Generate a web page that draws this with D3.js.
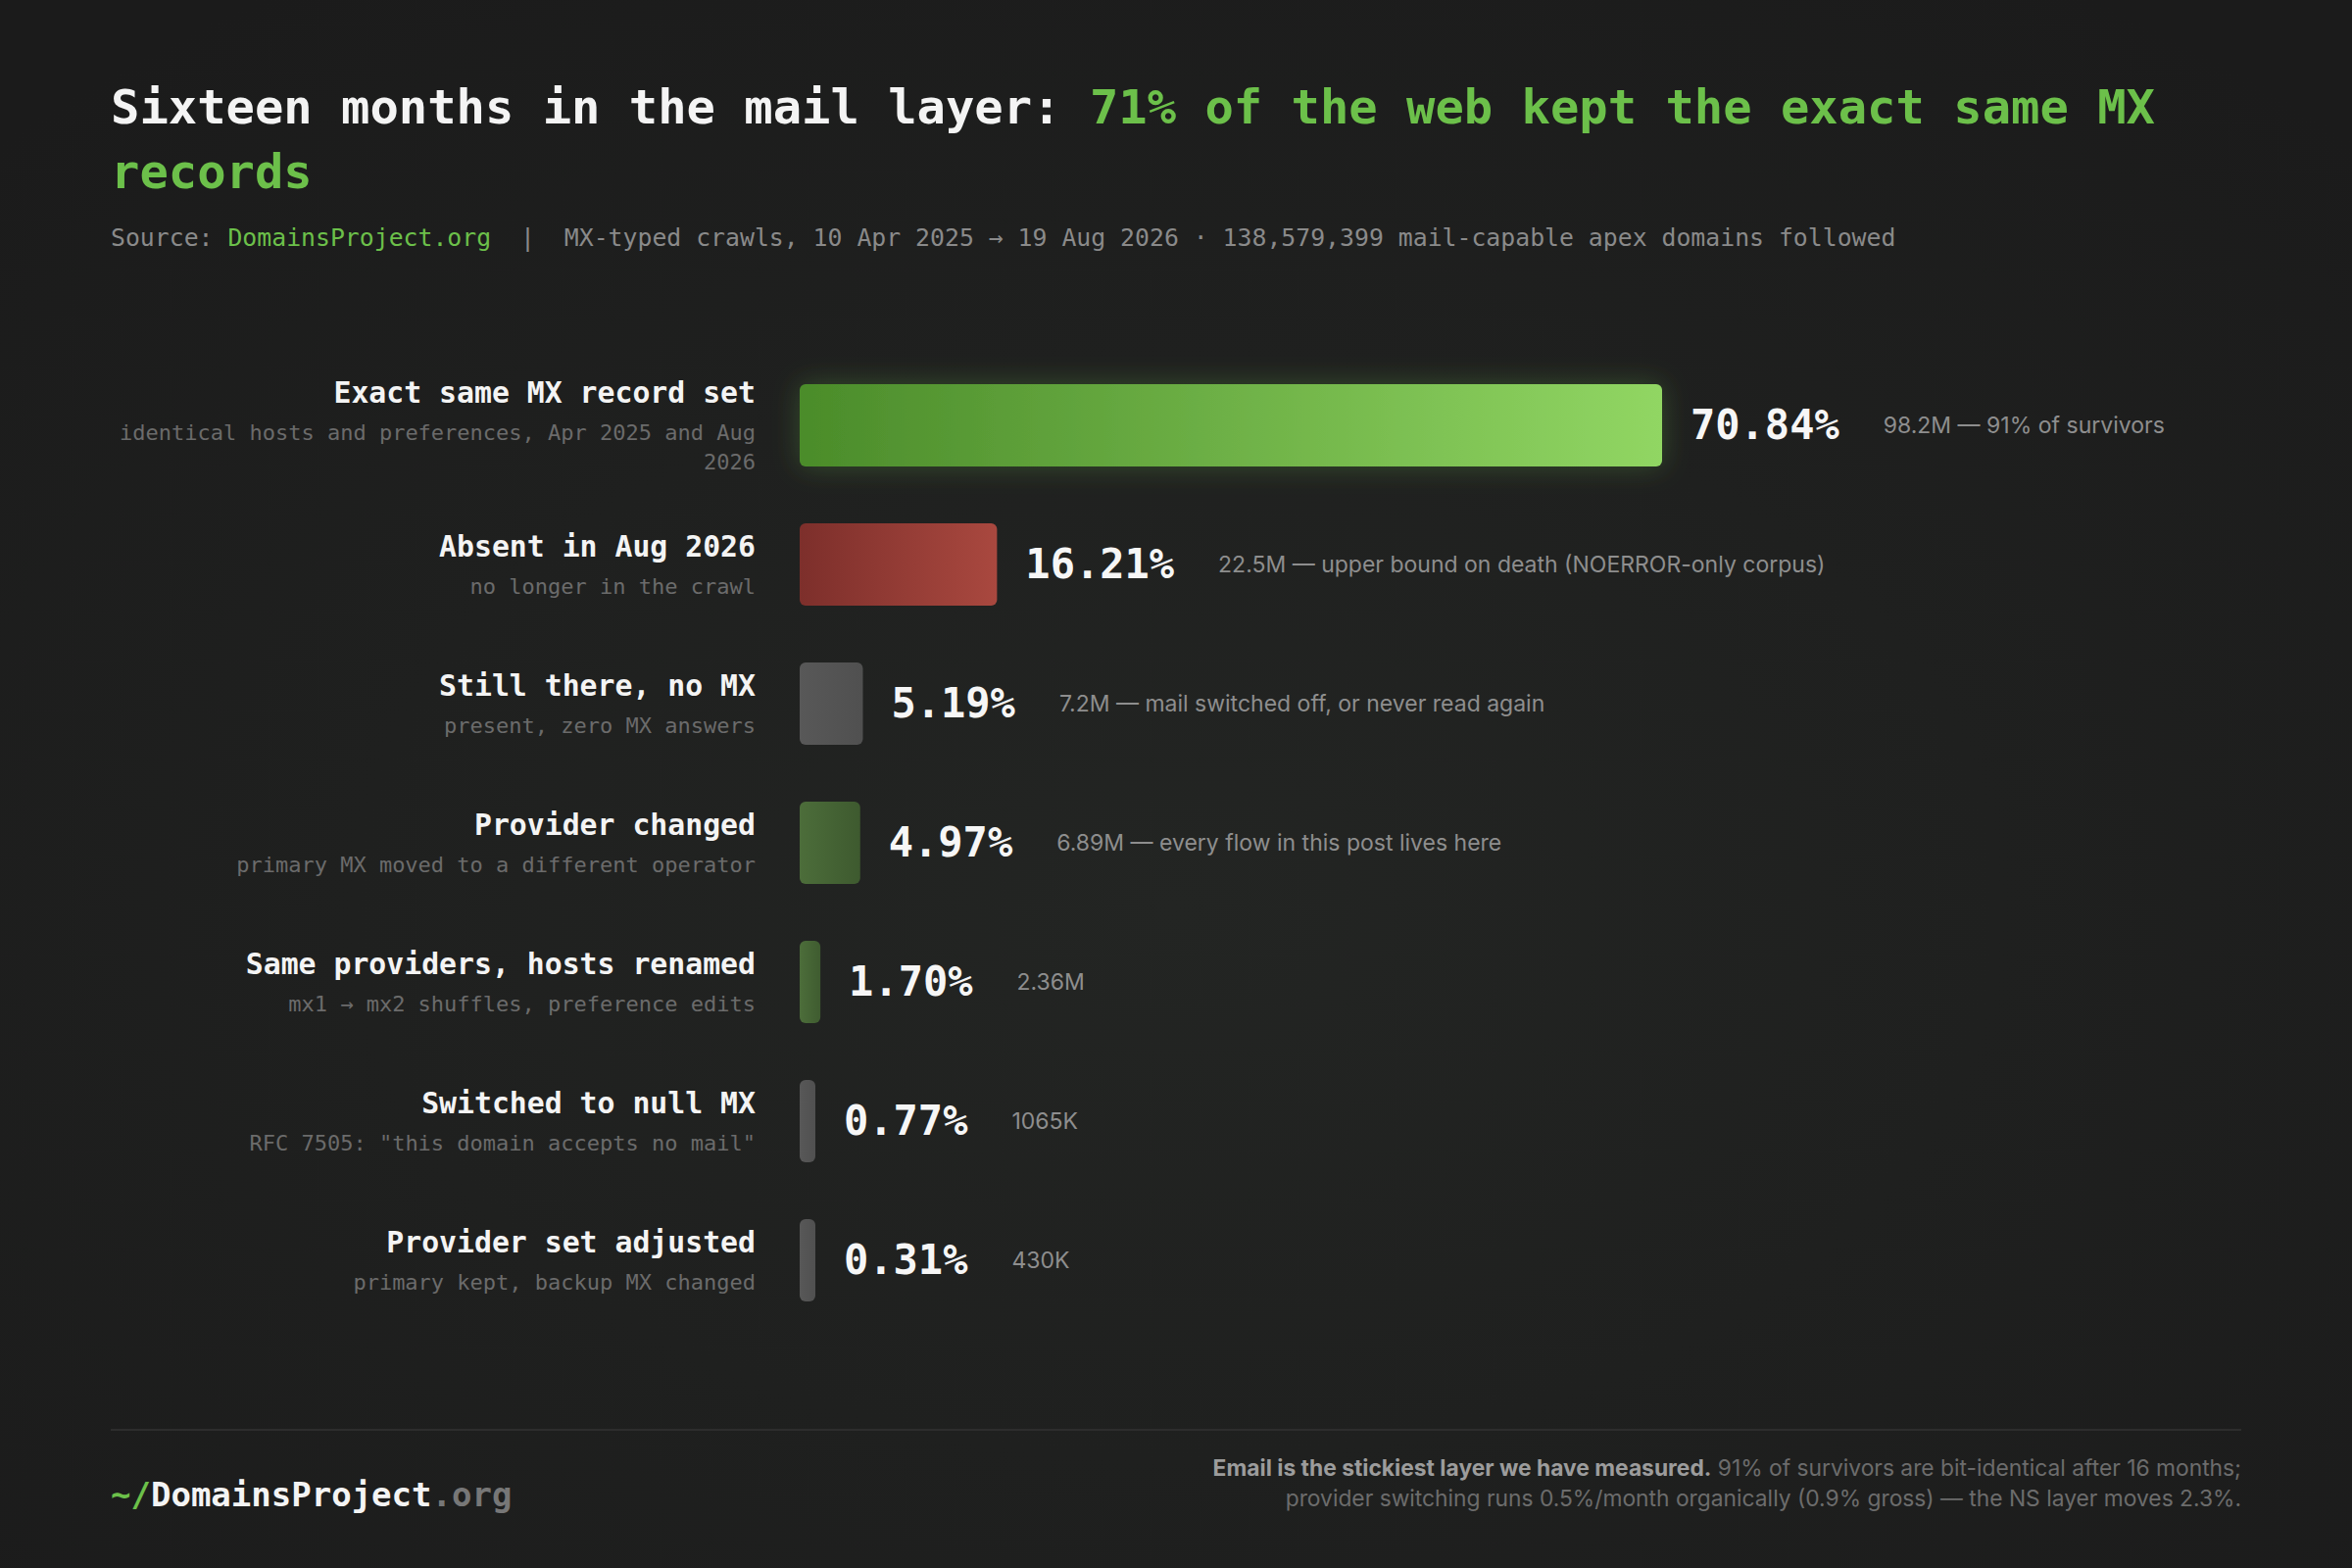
<!DOCTYPE html>
<html>
<head>
<meta charset="utf-8">
<script src="https://cdn.jsdelivr.net/npm/d3@7"></script>
<style>
  html, body { margin: 0; padding: 0; background: #1c1c1c; }
  svg { display: block; }
</style>
</head>
<body>
<div id="chart"></div>
<script>
// ---------------- data ----------------
const titleLead = "Sixteen months in the mail layer:";
const titleHighlight = "71% of the web kept the exact same MX records";
const sourceLabel = "Source: ";
const sourceName = "DomainsProject.org";
const sourceRest = "  |  MX-typed crawls, 10 Apr 2025 \u2192 19 Aug 2026 \u00b7 138,579,399 mail-capable apex domains followed";

const categories = [
  "Exact same MX record set",
  "Absent in Aug 2026",
  "Still there, no MX",
  "Provider changed",
  "Same providers, hosts renamed",
  "Switched to null MX",
  "Provider set adjusted"
];
const subLabels = [
  "identical hosts and preferences, Apr 2025 and Aug 2026",
  "no longer in the crawl",
  "present, zero MX answers",
  "primary MX moved to a different operator",
  "mx1 \u2192 mx2 shuffles, preference edits",
  "RFC 7505: \"this domain accepts no mail\"",
  "primary kept, backup MX changed"
];
const values = [70.84, 16.21, 5.19, 4.97, 1.70, 0.77, 0.31];
const notes = [
  "98.2M \u2014 91% of survivors",
  "22.5M \u2014 upper bound on death (NOERROR-only corpus)",
  "7.2M \u2014 mail switched off, or never read again",
  "6.89M \u2014 every flow in this post lives here",
  "2.36M",
  "1065K",
  "430K"
];
const footerBold = "Email is the stickiest layer we have measured.";
const footerLine1 = " 91% of survivors are bit-identical after 16 months;";
const footerLine2 = "provider switching runs 0.5%/month organically (0.9% gross) \u2014 the NS layer moves 2.3%.";
const logoParts = ["~/", "DomainsProject", ".org"];

// ---------------- styles ----------------
const barFills = [
  ["#4b8c2a", "#91d663"],
  ["#7d2f2b", "#a9483f"],
  ["#585858", "#505050"],
  ["#4c6d3a", "#3e5a2f"],
  ["#4c6d3a", "#3f5c30"],
  ["#585858", "#505050"],
  ["#585858", "#505050"]
];
const MONO = "'DejaVu Sans Mono', 'Liberation Mono', monospace";
const SANS = "Inter, 'Noto Sans', sans-serif";
const GREEN = "#6cc04a";

const W = 2400, H = 1600;
const left = 113, right = 2287;
const barX = 816, barMaxW = 880, barH = 84, minBarW = 16;
const labelRight = 771;

const svg = d3.select("#chart").append("svg")
  .attr("width", W).attr("height", H)
  .attr("viewBox", `0 0 ${W} ${H}`);

const defs = svg.append("defs");
const bg = defs.append("radialGradient").attr("id", "bg")
  .attr("cx", "50%").attr("cy", "58%").attr("r", "70%");
bg.append("stop").attr("offset", "0%").attr("stop-color", "#232523");
bg.append("stop").attr("offset", "100%").attr("stop-color", "#1b1b1b");
svg.append("rect").attr("width", W).attr("height", H).attr("fill", "url(#bg)");

barFills.forEach((c, i) => {
  const g = defs.append("linearGradient").attr("id", "bar" + i)
    .attr("x1", "0%").attr("x2", "100%").attr("y1", "0%").attr("y2", "0%");
  g.append("stop").attr("offset", "0%").attr("stop-color", c[0]);
  g.append("stop").attr("offset", "100%").attr("stop-color", c[1]);
});
const glow = defs.append("filter").attr("id", "glow")
  .attr("x", "-20%").attr("y", "-80%").attr("width", "140%").attr("height", "260%");
glow.append("feDropShadow").attr("dx", 0).attr("dy", 0)
  .attr("stdDeviation", 14).attr("flood-color", GREEN).attr("flood-opacity", 0.28);

// measuring helper
const measurer = svg.append("text").attr("visibility", "hidden")
  .attr("xml:space", "preserve").style("white-space", "pre");
function textW(str, font, size, weight) {
  measurer.attr("font-family", font).attr("font-size", size)
    .attr("font-weight", weight || "normal").text(str);
  return measurer.node().getComputedTextLength();
}

// ---------------- title ----------------
const titleSize = 48.8, titleLH = 66;
const titleWords = titleLead.split(" ").map(w => ({ w, c: "#f4f4f4" }))
  .concat(titleHighlight.split(" ").map(w => ({ w, c: GREEN })));
const title = svg.append("text").attr("font-family", MONO)
  .attr("font-size", titleSize).attr("font-weight", "bold");
{
  const space = textW("a a", MONO, titleSize, "bold") - textW("aa", MONO, titleSize, "bold");
  let x = 0, line = 0;
  titleWords.forEach(d => {
    const ww = textW(d.w, MONO, titleSize, "bold");
    if (x > 0 && x + ww > right - left) { x = 0; line++; }
    title.append("tspan").attr("x", left + x).attr("y", 126 + line * titleLH)
      .attr("fill", d.c).text(d.w);
    x += ww + space;
  });
}

// ---------------- subtitle ----------------
const sub = svg.append("text").attr("x", left).attr("y", 251)
  .attr("font-family", MONO).attr("font-size", 24.8)
  .attr("xml:space", "preserve").style("white-space", "pre");
sub.append("tspan").attr("fill", "#8a8a8a").text(sourceLabel);
sub.append("tspan").attr("fill", GREEN).text(sourceName);
sub.append("tspan").attr("fill", "#8a8a8a").text(sourceRest);

// ---------------- bars ----------------
const x = d3.scaleLinear().domain([0, d3.max(values)]).range([0, barMaxW]);
const y = d3.scalePoint().domain(categories).range([434, 434 + 6 * 142]);

const rows = svg.append("g").selectAll("g.row")
  .data(categories.map((c, i) => ({ c, i, v: values[i], s: subLabels[i], n: notes[i] })))
  .join("g").attr("class", "row");

rows.each(function (d) {
  const g = d3.select(this);
  const cy = y(d.c);
  const bw = Math.max(minBarW, x(d.v));

  // wrap sub label
  const subSize = 22, maxSubW = 680;
  const words = d.s.split(" ");
  const lines = [];
  let cur = "";
  words.forEach(w => {
    const t = cur ? cur + " " + w : w;
    if (cur && textW(t, MONO, subSize) > maxSubW) { lines.push(cur); cur = w; }
    else cur = t;
  });
  if (cur) lines.push(cur);
  const shift = (lines.length - 1) * 15;

  g.append("text").attr("x", labelRight).attr("y", cy - 8 - shift)
    .attr("text-anchor", "end").attr("font-family", MONO).attr("font-size", 29.8)
    .attr("font-weight", "bold").attr("fill", "#f4f4f4").text(d.c);
  lines.forEach((l, k) => {
    g.append("text").attr("x", labelRight).attr("y", cy + 30 - shift + k * 30)
      .attr("text-anchor", "end").attr("font-family", MONO).attr("font-size", subSize)
      .attr("fill", "#6b6b6b").text(l);
  });

  g.append("rect").attr("x", barX).attr("y", cy - barH / 2)
    .attr("width", bw).attr("height", barH).attr("rx", 6).attr("ry", 6)
    .attr("fill", `url(#bar${d.i})`)
    .attr("filter", d.i === 0 ? "url(#glow)" : null);

  const valStr = d.v.toFixed(2) + "%";
  const vx = barX + bw + 29;
  g.append("text").attr("x", vx).attr("y", cy + 14)
    .attr("font-family", MONO).attr("font-size", 42).attr("font-weight", "bold")
    .attr("fill", "#f6f6f6").text(valStr);
  const vw = textW(valStr, MONO, 42, "bold");
  g.append("text").attr("x", vx + vw + 45).attr("y", cy + 8)
    .attr("font-family", SANS).attr("font-size", 23)
    .attr("fill", "#8e8e8e").text(d.n);
});

// ---------------- footer ----------------
svg.append("line").attr("x1", left).attr("x2", right).attr("y1", 1459).attr("y2", 1459)
  .attr("stroke", "#2d2d2d").attr("stroke-width", 2);

const logo = svg.append("text").attr("x", left).attr("y", 1537)
  .attr("font-family", MONO).attr("font-size", 34).attr("font-weight", "bold");
logo.append("tspan").attr("fill", GREEN).text(logoParts[0]);
logo.append("tspan").attr("fill", "#f4f4f4").text(logoParts[1]);
logo.append("tspan").attr("fill", "#777777").text(logoParts[2]);

const f1 = svg.append("text").attr("x", right).attr("y", 1506).attr("text-anchor", "end")
  .attr("font-family", SANS).attr("font-size", 22.8)
  .attr("xml:space", "preserve").style("white-space", "pre");
f1.append("tspan").attr("fill", "#9c9c9c").attr("font-weight", "bold").text(footerBold);
f1.append("tspan").attr("fill", "#6c6c6c").text(footerLine1);
svg.append("text").attr("x", right).attr("y", 1537).attr("text-anchor", "end")
  .attr("font-family", SANS).attr("font-size", 22.8)
  .attr("fill", "#6c6c6c").text(footerLine2);

measurer.remove();
</script>
</body>
</html>
